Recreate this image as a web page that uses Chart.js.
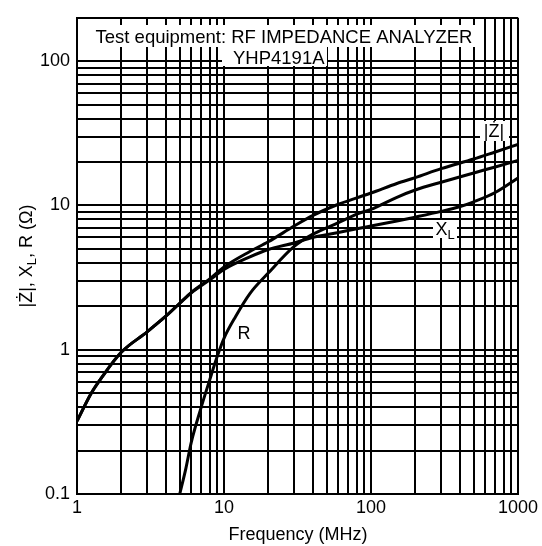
<!DOCTYPE html>
<html><head><meta charset="utf-8">
<script src="https://cdn.jsdelivr.net/npm/chart.js@4.4.0/dist/chart.umd.min.js"></script>
<style>html,body{margin:0;padding:0;background:#fff;}#wrap{width:542px;height:546px;}</style>
</head><body><div id="wrap"><canvas id="c" width="542" height="546"></canvas></div>
<script>
// ---- data ----
const freqZ   = [1,1.25,1.5,2,3,4,5,6,8,10,15,20,30,40,60,80,100,150,200,300,500,700,1000];
const zValues = [0.32,0.5,0.66,0.96,1.33,1.7,2.1,2.5,3.1,3.75,4.8,5.6,7.2,8.5,10.2,11.3,12.2,14.2,15.6,18.0,21.0,23.5,26.5];
const freqXL   = [1,1.25,1.5,2,3,4,5,6,8,10,15,20,30,40,60,80,100,150,200,300,400,500,700,1000];
const xlValues = [0.32,0.5,0.66,0.96,1.33,1.7,2.1,2.48,3.05,3.6,4.4,4.95,5.5,6.0,6.5,6.9,7.2,7.8,8.3,9.1,9.8,10.6,12.3,15.5];
const freqR   = [5,5.5,6,7,8,9,10,12,15,20,30,40,60,80,100,150,200,300,500,700,1000];
const rValues = [0.1,0.15,0.23,0.4,0.62,0.9,1.2,1.7,2.45,3.4,5.2,6.3,7.6,8.7,9.4,11.4,12.8,14.5,16.8,18.5,20.5];
const xTickValues = [1,10,100,1000];
const xTickLabels = ['1','10','100','1000'];
const yTickValues = [0.1,1,10,100];
const yTickLabels = ['0.1','1','10','100'];
const xTitle = 'Frequency (MHz)';
const titleLine1 = 'Test equipment: RF IMPEDANCE ANALYZER';
const titleLine2 = 'YHP4191A';

// log grid values (1..9 x 10^n)
function logGrid(min, max){
  const out=[];
  for(let e=-3;e<=4;e++){for(let m=1;m<10;m++){const v=+(m*Math.pow(10,e)).toPrecision(6); if(v>=min-1e-9 && v<=max+1e-9) out.push(v);}}
  return out;
}
const xGrid = logGrid(1,1000);
const yGrid = logGrid(0.1,200);

function labelFor(v, vals, labs){
  for(let i=0;i<vals.length;i++){ if(Math.abs(v-vals[i])<1e-9*Math.max(1,vals[i])) return labs[i]; }
  return '';
}
function pts(xs, ys){ return xs.map((x,i)=>({x:x,y:ys[i]})); }

const FONT = '"Liberation Sans", Arial, Helvetica, sans-serif';

function drawParts(ctx, parts, cx, cy, size){
  // parts: [text, isSub]
  let total=0;
  const widths = parts.map(p=>{ctx.font=(p[1]?Math.round(size*0.7):size)+'px '+FONT; const w=ctx.measureText(p[0]).width; total+=w; return w;});
  let x = cx-total/2;
  parts.forEach((p,i)=>{
    ctx.font=(p[1]?Math.round(size*0.7):size)+'px '+FONT;
    ctx.fillText(p[0], x, cy + (p[1]?4:0));
    x+=widths[i];
  });
  return total;
}

const textPlugin = {
  id:'texts',
  afterDraw(chart){
    const ctx=chart.ctx;
    ctx.save();
    ctx.fillStyle='#000';
    ctx.textBaseline='alphabetic';
    // title box
    ctx.fillStyle='#fff';
    ctx.fillRect(90,25,389,22);
    ctx.fillRect(222,46,105,20);
    ctx.fillStyle='#000';
    ctx.font='18.5px '+FONT;
    ctx.textAlign='center';
    ctx.fillText(titleLine1, 284, 43);
    ctx.textAlign='left';
    ctx.fillText(titleLine2, 233, 64);
    // |Ż| label
    ctx.fillStyle='#fff';
    ctx.fillRect(480,121,29,20);
    ctx.fillStyle='#000';
    ctx.textAlign='left';
    drawParts(ctx, [['|Ż|',false]], 494, 137, 18);
    // XL label
    ctx.fillStyle='#fff';
    ctx.fillRect(433,220,24,18);
    ctx.fillStyle='#000';
    drawParts(ctx, [['X',false],['L',true]], 445, 235, 18);
    // R label
    ctx.fillStyle='#fff';
    ctx.fillRect(237,324,14,17);
    ctx.fillStyle='#000';
    drawParts(ctx, [['R',false]], 244, 339, 18);
    // x title
    ctx.font='18px '+FONT;
    ctx.textAlign='center';
    ctx.fillText(xTitle, 298, 540);
    // y title rotated
    ctx.translate(32, 256);
    ctx.rotate(-Math.PI/2);
    ctx.textAlign='left';
    drawParts(ctx, [['|Ż|, X',false],['L',true],[', R (Ω)',false]], 0, 0, 18);
    ctx.restore();
  }
};

new Chart(document.getElementById('c'), {
  type:'line',
  data:{datasets:[
    {label:'|Z|', data:pts(freqZ,zValues)},
    {label:'XL', data:pts(freqXL,xlValues)},
    {label:'R', data:pts(freqR,rValues)}
  ].map(d=>Object.assign(d,{borderColor:'#000',borderWidth:3,pointRadius:0,fill:false,cubicInterpolationMode:'monotone'}))},
  options:{
    responsive:false, animation:false, devicePixelRatio:1,
    layout:{padding:{left:0,right:24,top:10,bottom:0}},
    plugins:{legend:{display:false},tooltip:{enabled:false}},
    scales:{
      x:{type:'logarithmic', min:1, max:1000,
        afterBuildTicks:s=>{s.ticks=xGrid.map(v=>({value:v}));},
        afterFit:s=>{s.height=52;},
        ticks:{autoSkip:false, maxRotation:0, padding:3, color:'#000', font:{family:FONT,size:18},
          callback:v=>labelFor(v,xTickValues,xTickLabels)},
        grid:{color:'#000', lineWidth:2, drawTicks:false},
        border:{color:'#000', width:2}
      },
      y:{type:'logarithmic', min:0.1, max:200,
        afterBuildTicks:s=>{s.ticks=yGrid.map(v=>({value:v}));},
        afterFit:s=>{s.width=77;},
        ticks:{autoSkip:false, padding:7, color:'#000', font:{family:FONT,size:18},
          callback:v=>labelFor(v,yTickValues,yTickLabels)},
        grid:{color:'#000', lineWidth:2, drawTicks:false},
        border:{color:'#000', width:2}
      }
    }
  },
  plugins:[textPlugin]
});
</script></body></html>
